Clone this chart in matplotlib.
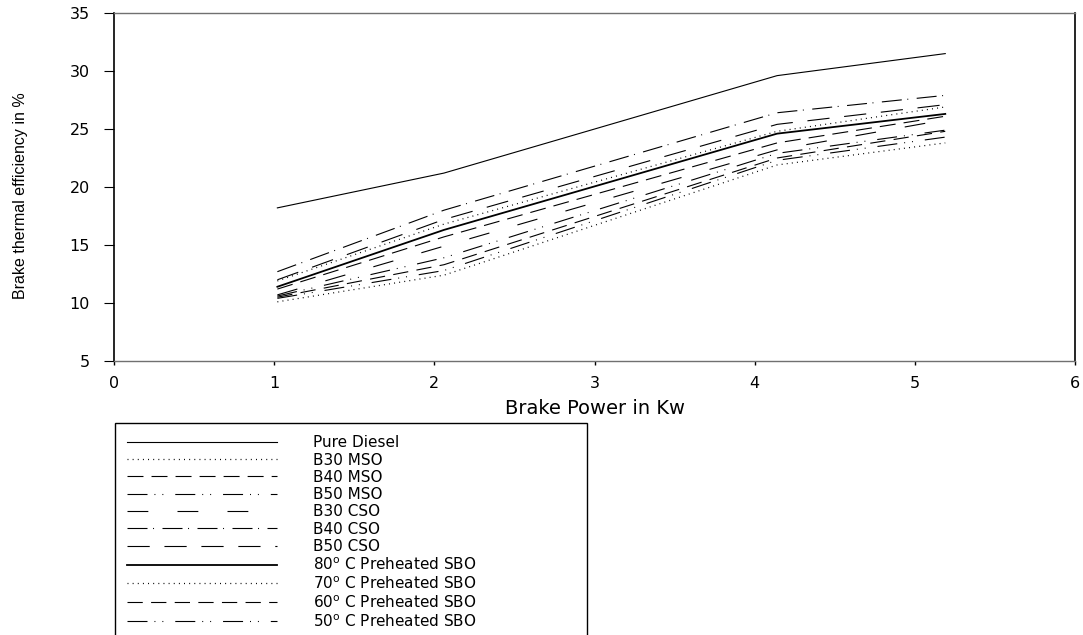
import matplotlib
matplotlib.use('Agg')
import matplotlib.pyplot as plt

# ---- data ----
power = [1.02, 2.06, 4.14, 5.19]
pure_diesel = [18.2, 21.2, 29.6, 31.5]
b30_mso = [11.9, 16.8, 24.8, 26.9]
b40_mso = [11.2, 15.7, 23.8, 26.1]
b50_mso = [10.6, 13.9, 22.9, 24.9]
b30_cso = [10.7, 14.9, 23.2, 25.8]
b40_cso = [12.7, 18.0, 26.4, 27.9]
b50_cso = [12.0, 17.2, 25.4, 27.1]
sbo_80 = [11.4, 16.3, 24.6, 26.3]
sbo_70 = [10.1, 12.4, 21.9, 23.8]
sbo_60 = [10.5, 13.3, 22.5, 24.8]
sbo_50 = [10.4, 12.8, 22.3, 24.3]

labels = ["Pure Diesel", "B30 MSO", "B40 MSO", "B50 MSO", "B30 CSO", "B40 CSO",
          "B50 CSO", r"80$^{\mathrm{o}}$ C Preheated SBO",
          r"70$^{\mathrm{o}}$ C Preheated SBO",
          r"60$^{\mathrm{o}}$ C Preheated SBO",
          r"50$^{\mathrm{o}}$ C Preheated SBO"]
series = [pure_diesel, b30_mso, b40_mso, b50_mso, b30_cso, b40_cso, b50_cso,
          sbo_80, sbo_70, sbo_60, sbo_50]

xticks = [0, 1, 2, 3, 4, 5, 6]
yticks = [5, 10, 15, 20, 25, 30, 35]

# ---- styles ----
plt.rcParams['lines.scale_dashes'] = False
plt.rcParams['font.family'] = ['DejaVu Sans']
plt.rcParams['mathtext.default'] = 'regular'

styles = [
    ('-', 0.8),
    ((0, (0.7, 3.0)), 0.9),
    ((0, (11.5, 5.8)), 0.8),
    ((0, (14.4, 5.0, 0.7, 5.0, 0.7, 8.6)), 0.8),
    ((0, (15.0, 21.0)), 0.8),
    ((0, (14.4, 4.0, 0.7, 6.1)), 0.8),
    ((0, (16.0, 10.6)), 0.8),
    ('-', 1.3),
    ((0, (0.7, 3.0)), 0.9),
    ((0, (11.0, 6.0)), 0.8),
    ((0, (14.4, 5.0, 0.7, 5.0, 0.7, 8.6)), 0.8),
]

W, H = 1083, 635
fig = plt.figure(figsize=(W / 100, H / 100), dpi=100)
ax = fig.add_axes([114 / W, 1 - 361 / H, 961 / W, 348 / H])

handles = []
for ys, lab, (ls, lw) in zip(series, labels, styles):
    h, = ax.plot(power, ys, color='black', linestyle=ls, linewidth=lw, label=lab)
    handles.append(h)

ax.set_xlim(0, 6)
ax.set_ylim(5, 35)
ax.set_xticks(xticks)
ax.set_yticks(yticks)

for s in ['left', 'right']:
    ax.spines[s].set_color('black')
    ax.spines[s].set_linewidth(1.2)
for s in ['top', 'bottom']:
    ax.spines[s].set_color('#707070')
    ax.spines[s].set_linewidth(1.0)

ax.tick_params(axis='y', direction='out', length=7.2, width=0.8, pad=10,
               labelsize=11.5, colors='black', left=True, right=False)
ax.tick_params(axis='x', direction='out', length=3, width=1.0, pad=8,
               labelsize=11.5, colors='black', bottom=True, top=False)

ax.set_xlabel("Brake Power in Kw", fontsize=14)
ax.xaxis.set_label_coords(0.501, -0.11)
ax.set_ylabel("Brake thermal efficiency in %", fontsize=11.5,
              family=['Liberation Sans', 'DejaVu Sans'])
ax.yaxis.set_label_coords(-0.09, 0.474)

leg = fig.legend(handles=handles, labels=labels, loc='upper left',
                 bbox_to_anchor=(115 / W, 1 - 423 / H, 472 / W, 0.0),
                 mode='expand', borderaxespad=0, frameon=True, fancybox=False,
                 edgecolor='black', framealpha=1, fontsize=11,
                 handlelength=9.8, handletextpad=2.35, borderpad=0.8,
                 labelspacing=0.15)
leg.get_frame().set_linewidth(1.0)

fig.savefig('out.png', dpi=100)
